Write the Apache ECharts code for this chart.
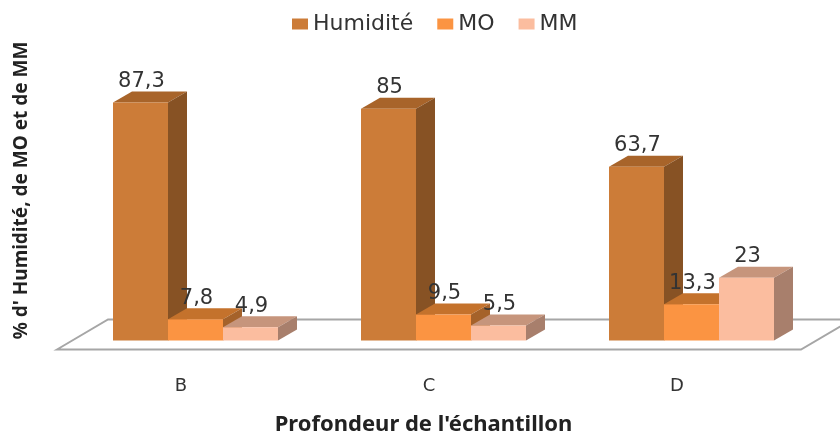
<!DOCTYPE html>
<html>
<head>
<meta charset="utf-8">
<style>
    html, body { margin: 0; padding: 0; background: #fff; }
    #chart { width: 840px; height: 435px; }
</style>
<script src="https://cdn.jsdelivr.net/npm/echarts@6/dist/echarts.min.js"></script>
</head>
<body>
<div id="chart"></div>
<script>
    var categories = ['B', 'C', 'D']
    var humidite = [87.3, 85, 63.7]
    var mo = [7.8, 9.5, 13.3]
    var mm = [4.9, 5.5, 23]

    // depth of the fake 3D extrusion, in px
    var depthX = 19
    var depthY = -11
    var barWidth = 55

    function threeDBar(slot, front, top, side) {
        return function (params, api) {
            var base = api.coord([api.value(0), 0])
            var head = api.coord([api.value(0), api.value(1)])
            var left = base[0] - 68 + slot * barWidth
            var right = left + barWidth
            var label = String(api.value(1)).replace('.', ',')
            return {
                type: 'group',
                children: [
                    {
                        type: 'polygon',
                        shape: {points: [[left, head[1]], [left + depthX, head[1] + depthY], [right + depthX, head[1] + depthY], [right, head[1]]]},
                        style: {fill: top}
                    },
                    {
                        type: 'polygon',
                        shape: {points: [[right, head[1]], [right + depthX, head[1] + depthY], [right + depthX, base[1] + depthY], [right, base[1]]]},
                        style: {fill: side}
                    },
                    {
                        type: 'rect',
                        shape: {x: left, y: head[1], width: barWidth, height: base[1] - head[1]},
                        style: {fill: front}
                    },
                    {
                        type: 'text',
                        z2: 100,
                        x: left + barWidth / 2 + 1,
                        y: head[1] - 21,
                        style: {
                            text: label,
                            fill: '#333',
                            font: '21px "DejaVu Sans"',
                            align: 'center',
                            verticalAlign: 'middle'
                        }
                    }
                ]
            }
        }
    }

    function drawFloor(params, api) {
        var box = params.coordSys
        var front = box.y + box.height + 9
        var back = box.y + box.height - 21
        return {
            type: 'polygon',
            shape: {
                points: [[box.x, front], [box.x + 51, back], [box.x + box.width + 51, back], [box.x + box.width, front]]
            },
            style: {fill: '#fff', stroke: '#a6a6a6', lineWidth: 2}
        }
    }

    function barSeries(name, values, slot, front, top, side) {
        return {
            name: name,
            type: 'custom',
            z: 3 + slot,
            itemStyle: {color: front},
            renderItem: threeDBar(slot, front, top, side),
            encode: {x: 0, y: 1},
            data: values.map(function (v, i) { return [i, v] })
        }
    }

    var myChart = echarts.init(document.getElementById('chart'))
    myChart.setOption({
        animation: false,
        legend: {
            data: ['Humidité', 'MO', 'MM'],
            left: 287,
            top: 8,
            icon: 'rect',
            itemWidth: 16,
            itemHeight: 11,
            itemGap: 24,
            textStyle: {fontFamily: 'DejaVu Sans', fontSize: 22, color: '#333'}
        },
        grid: {left: 57, width: 744, top: 40.5, height: 300, outerBoundsMode: 'none'},
        xAxis: {
            type: 'category',
            data: categories,
            axisLine: {show: false},
            axisTick: {show: false},
            axisLabel: {margin: 37, fontFamily: 'DejaVu Sans', fontSize: 18, color: '#333'},
            name: "Profondeur de l'échantillon",
            nameLocation: 'middle',
            nameGap: 73,
            nameTextStyle: {fontFamily: 'Noto Sans', fontWeight: 'bold', fontSize: 22, color: '#222', padding: [0, 11, 0, 0]}
        },
        yAxis: {
            type: 'value',
            min: 0,
            max: 110,
            axisLine: {show: false},
            axisTick: {show: false},
            axisLabel: {show: false},
            splitLine: {show: false},
            name: "% d' Humidité, de MO et de MM",
            nameLocation: 'middle',
            nameGap: 26,
            nameTextStyle: {fontFamily: 'Noto Sans', fontWeight: 'bold', fontSize: 19, color: '#222'}
        },
        series: [
            {
                type: 'custom',
                z: 1,
                silent: true,
                renderItem: drawFloor,
                data: [[0, 0]]
            },
            barSeries('Humidité', humidite, 0, '#cc7c38', '#a8642a', '#875224'),
            barSeries('MO', mo, 1, '#fb9442', '#c4722c', '#a5622a'),
            barSeries('MM', mm, 2, '#fbbd9f', '#c6957c', '#a87f6c')
        ]
    })
</script>
</body>
</html>
